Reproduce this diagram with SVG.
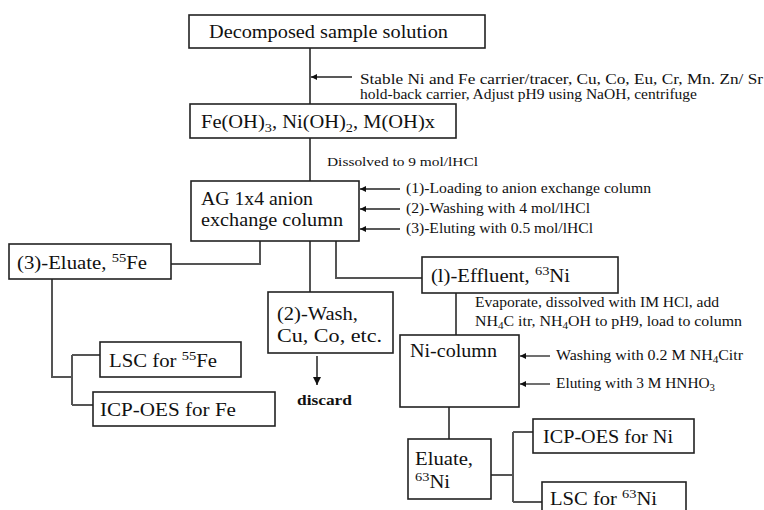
<svg xmlns="http://www.w3.org/2000/svg" width="764" height="510" viewBox="0 0 764 510">
<defs>
<marker id="ah" viewBox="0 0 10 10" refX="10" refY="5" markerWidth="6" markerHeight="6" orient="auto" markerUnits="userSpaceOnUse">
<path d="M0,0 L10,5 L0,10 z" fill="#111"/>
</marker>
<marker id="ahd" viewBox="0 0 10 10" refX="10" refY="5" markerWidth="8" markerHeight="8" orient="auto" markerUnits="userSpaceOnUse">
<path d="M0,0 L10,5 L0,10 z" fill="#111"/>
</marker>
</defs>
<style>
.box{fill:#fff;stroke:#222;stroke-width:1.6}
.ln{fill:none;stroke:#555;stroke-width:2}
.ar{fill:none;stroke:#222;stroke-width:1.3;marker-end:url(#ah)}
.t{font-family:"Liberation Serif","Times New Roman",serif;font-size:19px;fill:#111}
.a{font-family:"Liberation Serif","Times New Roman",serif;font-size:15px;fill:#111}
.s{font-size:70%}
</style>
<rect width="764" height="510" fill="#fff"/>
<g id="connectors">
<path class="ln" d="M310,48 V104"/>
<path class="ln" d="M310,138 V181"/>
<path class="ln" d="M260,241 V264 H171"/>
<path class="ln" d="M310,241 V292"/>
<path class="ln" d="M336,241 V278 H422"/>
<path class="ln" d="M52,279 V377 H72"/>
<path class="ln" d="M72,355 V405"/>
<path class="ln" d="M72,355 H100"/>
<path class="ln" d="M72,405 H93"/>
<path class="ln" d="M456,293 V335"/>
<path class="ln" d="M449,407 V439"/>
<path class="ln" d="M491,475 H513"/>
<path class="ln" d="M513,432 V502"/>
<path class="ln" d="M513,432 H533"/>
<path class="ln" d="M513,502 H542"/>
<path class="ar" d="M352,77 H311"/>
<path class="ar" d="M400,189 H360"/>
<path class="ar" d="M400,209 H360"/>
<path class="ar" d="M400,229 H360"/>
<path class="ar" d="M550,356 H520"/>
<path class="ar" d="M550,384 H520"/>
<path fill="none" stroke="#222" stroke-width="1.5" marker-end="url(#ahd)" d="M317,356 V385"/>
</g>
<g id="n-decomposed">
<rect class="box" x="189" y="15" width="296" height="33"/>
<text class="t" x="209" y="38" textLength="239" lengthAdjust="spacingAndGlyphs">Decomposed sample solution</text>
</g>
<g id="a-stable">
<text class="a" x="360" y="84" textLength="403" lengthAdjust="spacingAndGlyphs">Stable Ni and Fe carrier/tracer, Cu, Co, Eu, Cr, Mn. Zn/ Sr</text>
<text class="a" x="360" y="99" textLength="337" lengthAdjust="spacingAndGlyphs">hold-back carrier, Adjust pH9 using NaOH, centrifuge</text>
</g>
<g id="n-hydroxides">
<rect class="box" x="190" y="104" width="266" height="34"/>
<text class="t" x="201" y="128" textLength="234" lengthAdjust="spacingAndGlyphs">Fe(OH)<tspan class="s" dy="4">3</tspan><tspan dy="-4">, Ni(OH)</tspan><tspan class="s" dy="4">2</tspan><tspan dy="-4">, M(OH)x</tspan></text>
</g>
<g id="a-dissolved">
<text class="a" x="327" y="166" style="font-size:13px" textLength="151" lengthAdjust="spacingAndGlyphs">Dissolved to 9 mol/lHCl</text>
</g>
<g id="n-ag">
<rect class="box" x="191" y="181" width="168" height="60"/>
<text class="t" x="201" y="205" textLength="112" lengthAdjust="spacingAndGlyphs">AG 1x4 anion</text>
<text class="t" x="201" y="226" textLength="142" lengthAdjust="spacingAndGlyphs">exchange column</text>
</g>
<g id="a-ag-steps">
<text class="a" x="406" y="193" textLength="245" lengthAdjust="spacingAndGlyphs">(1)-Loading to anion exchange column</text>
<text class="a" x="406" y="213" textLength="184" lengthAdjust="spacingAndGlyphs">(2)-Washing with 4 mol/lHCl</text>
<text class="a" x="406" y="233" textLength="187" lengthAdjust="spacingAndGlyphs">(3)-Eluting with 0.5 mol/lHCl</text>
</g>
<g id="n-eluate-fe">
<rect class="box" x="9" y="244" width="162" height="35"/>
<text class="t" x="17" y="269" textLength="130" lengthAdjust="spacingAndGlyphs">(3)-Eluate, <tspan class="s" dy="-7">55</tspan><tspan dy="7">Fe</tspan></text>
</g>
<g id="n-wash">
<rect class="box" x="268" y="292" width="125" height="61"/>
<text class="t" x="277" y="320" textLength="81" lengthAdjust="spacingAndGlyphs">(2)-Wash,</text>
<text class="t" x="277" y="342" textLength="105" lengthAdjust="spacingAndGlyphs">Cu, Co, etc.</text>
</g>
<g id="n-discard">
<text class="a" x="297" y="405" font-weight="bold" textLength="55" lengthAdjust="spacingAndGlyphs">discard</text>
</g>
<g id="n-effluent">
<rect class="box" x="422" y="257" width="196" height="36"/>
<text class="t" x="431" y="282" textLength="139" lengthAdjust="spacingAndGlyphs">(l)-Effluent, <tspan class="s" dy="-7">63</tspan><tspan dy="7">Ni</tspan></text>
</g>
<g id="a-evaporate">
<text class="a" x="475" y="307" textLength="244" lengthAdjust="spacingAndGlyphs">Evaporate, dissolved with IM HCl, add</text>
<text class="a" x="475" y="326" textLength="267" lengthAdjust="spacingAndGlyphs">NH<tspan class="s" dy="3">4</tspan><tspan dy="-3">C itr, NH</tspan><tspan class="s" dy="3">4</tspan><tspan dy="-3">OH to pH9, load to column</tspan></text>
</g>
<g id="n-lsc-fe">
<rect class="box" x="100" y="342" width="141" height="35"/>
<text class="t" x="109" y="367" textLength="108" lengthAdjust="spacingAndGlyphs">LSC for <tspan class="s" dy="-7">55</tspan><tspan dy="7">Fe</tspan></text>
</g>
<g id="n-icp-fe">
<rect class="box" x="93" y="392" width="182" height="34"/>
<text class="t" x="100" y="416" textLength="136" lengthAdjust="spacingAndGlyphs">ICP-OES for Fe</text>
</g>
<g id="n-nicolumn">
<rect class="box" x="400" y="335" width="119" height="72"/>
<text class="t" x="410" y="357" textLength="87" lengthAdjust="spacingAndGlyphs">Ni-column</text>
</g>
<g id="a-ni-steps">
<text class="a" x="556" y="360" textLength="187" lengthAdjust="spacingAndGlyphs">Washing with 0.2 M NH<tspan class="s" dy="3">4</tspan><tspan dy="-3">Citr</tspan></text>
<text class="a" x="556" y="388" textLength="159" lengthAdjust="spacingAndGlyphs">Eluting with 3 M HNHO<tspan class="s" dy="3">3</tspan></text>
</g>
<g id="n-eluate-ni">
<rect class="box" x="408" y="439" width="83" height="60"/>
<text class="t" x="415" y="465" textLength="58" lengthAdjust="spacingAndGlyphs">Eluate,</text>
<text class="t" x="415" y="488" textLength="35" lengthAdjust="spacingAndGlyphs"><tspan class="s" dy="-7">63</tspan><tspan dy="7">Ni</tspan></text>
</g>
<g id="n-icp-ni">
<rect class="box" x="533" y="419" width="161" height="34"/>
<text class="t" x="543" y="443" textLength="130" lengthAdjust="spacingAndGlyphs">ICP-OES for Ni</text>
</g>
<g id="n-lsc-ni">
<rect class="box" x="542" y="482" width="144" height="40"/>
<text class="t" x="550" y="505" textLength="107" lengthAdjust="spacingAndGlyphs">LSC for <tspan class="s" dy="-7">63</tspan><tspan dy="7">Ni</tspan></text>
</g>
</svg>
